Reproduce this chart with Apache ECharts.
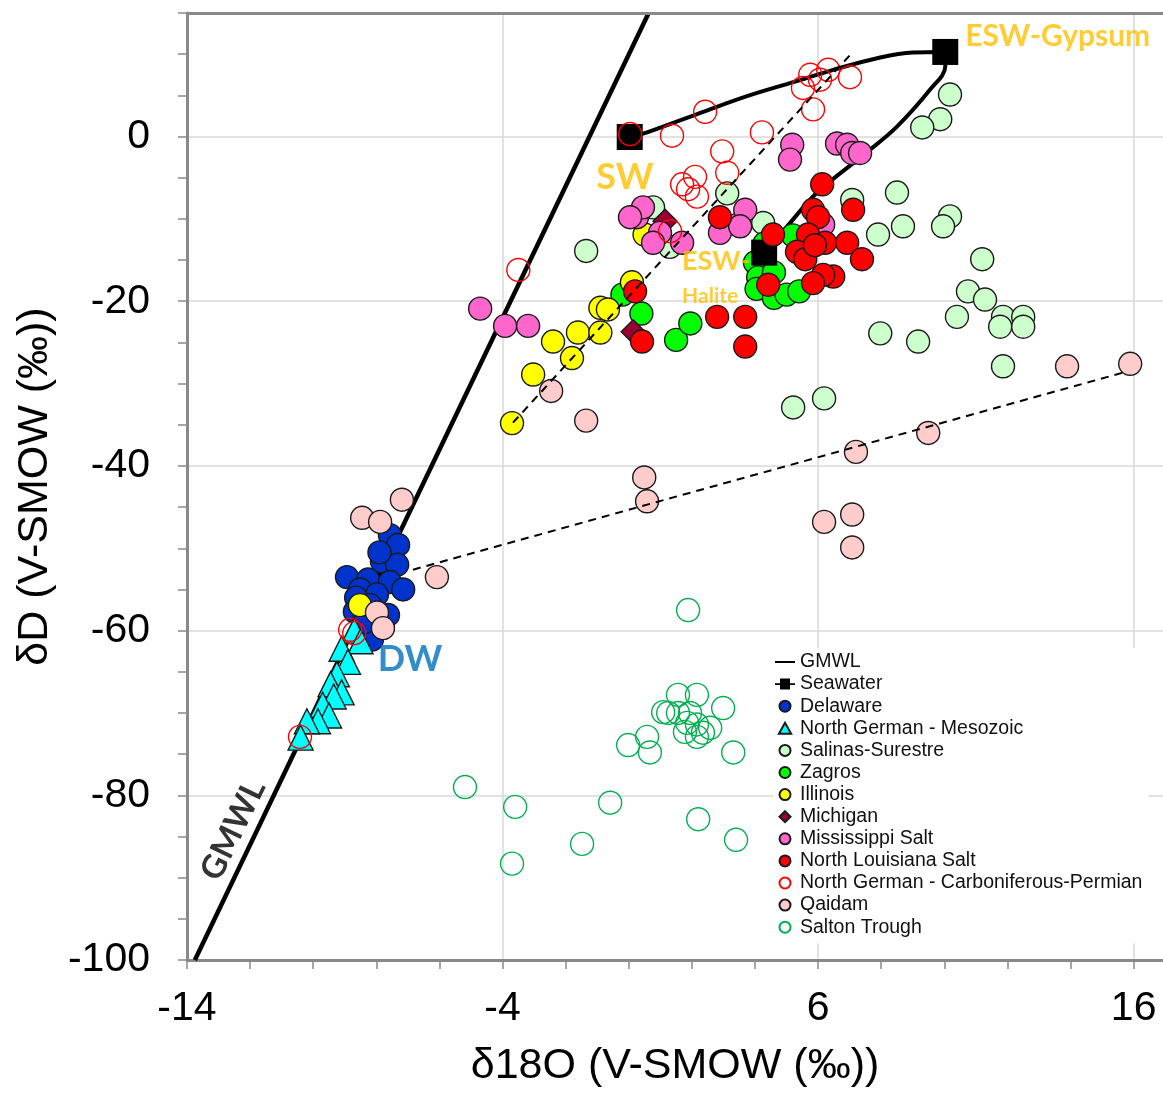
<!DOCTYPE html>
<html>
<head>
<meta charset="utf-8">
<script src="https://cdn.jsdelivr.net/npm/echarts@6/dist/echarts.min.js"></script>
<style>html,body{margin:0;padding:0;background:#fff;overflow:hidden}#c{width:1163px;height:1093px}</style>
</head>
<body>
<div id="c"></div>
<script>
// ---- data (δ18O, δD) ----
var gmwl = [[-13.75, -100], [0.63, 15]];
var seawaterCurve = [[0.03, -0.06], [0.58, 0.5], [2.36, 3.0], [3.75, 4.9], [5.21, 6.6], [6.48, 8.1], [7.97, 9.6], [9.01, 10.2], [10.03, 10.27],
  [10.03, 8.5], [9.55, 5.7], [8.5, 1.2], [7.55, -1.9], [5.97, -6.8], [5.02, -10.9], [4.29, -14.1]];
var seawaterKeyIdx = [0, 8, 15];
var dashA = [[-3.67, -34.75], [7.11, 10.3]];
var dashB = [[-6.84, -52.6], [15.73, -28.6]];

var delaware = [[-7.57,-48.4],[-7.31,-49.6],[-7.82,-51.6],[-7.34,-52.0],[-8.93,-53.5],[-8.26,-53.8],[-7.57,-54.1],[-7.15,-55.0],[-8.52,-55.0],[-7.98,-55.6],[-8.64,-56.0],[-8.2,-56.9],[-7.63,-58.1],[-8.68,-57.7],[-8.14,-61.1],[-7.9,-50.5],[-8.4,-59.0]];
var ngMesozoic = [[-8.7,-60.0],[-8.5,-61.3],[-9.1,-62.2],[-8.9,-63.8],[-9.25,-65.3],[-9.45,-66.5],[-9.1,-67.5],[-9.35,-68.0],[-9.7,-69.0],[-9.5,-70.3],[-9.85,-71.0],[-10.2,-71.0],[-10.4,-73.0]];
var salinas = [[10.18,5.1],[9.87,2.1],[9.3,1.1],[7.08,-7.7],[8.5,-6.8],[10.18,-9.7],[9.96,-10.9],[8.69,-10.9],[7.9,-11.9],[11.2,-14.9],[10.75,-18.8],[11.29,-19.8],[10.4,-21.9],[11.86,-21.9],[11.77,-23.1],[12.5,-21.9],[12.5,-23.1],[7.97,-23.9],[9.17,-24.9],[11.86,-27.9],[-1.35,-13.9],[3.12,-6.9],[5.21,-32.9],[6.19,-31.8],[0.77,-8.6],[1.3,-13.4],[4.26,-10.5]];
var zagros = [[-0.2,-19.2],[0.4,-21.5],[1.5,-24.7],[1.95,-22.7],[4.0,-15.3],[4.1,-17.1],[4.05,-18.5],[4.6,-19.6],[5.0,-19.2],[5.4,-18.8],[5.2,-12.0],[4.3,-13.0],[4.6,-16.5]];
var illinois = [[-3.7,-34.8],[-3.03,-28.9],[-2.4,-24.9],[-1.8,-26.9],[-1.61,-23.8],[-0.9,-23.8],[-0.9,-20.8],[-0.66,-21.0],[0.1,-17.7],[0.5,-11.9],[-8.52,-56.9]];
var michigan = [[1.15,-10.3],[0.14,-23.7]];
var mississippi = [[5.18,-1.0],[5.11,-2.8],[6.6,-0.85],[6.92,-1.0],[7.08,-2.0],[7.33,-2.0],[-4.71,-20.9],[-3.92,-23.0],[-3.19,-23.0],[0.26,-9.8],[0.45,-8.6],[0.99,-11.7],[0.77,-12.9],[1.69,-12.9],[3.46,-10.7],[3.69,-8.9],[2.89,-11.7],[3.53,-10.9],[6.16,-10.7],[0.04,-9.8]];
var louisiana = [[6.13,-5.8],[5.84,-8.9],[6.0,-9.8],[7.11,-8.9],[2.89,-9.8],[4.57,-11.9],[5.68,-11.9],[6.22,-12.9],[6.92,-12.9],[5.33,-14.0],[5.59,-14.9],[7.39,-14.9],[6.48,-17.0],[6.16,-16.8],[5.84,-17.8],[4.42,-18.0],[2.8,-21.9],[3.69,-21.9],[3.69,-25.5],[0.2,-18.8],[0.42,-24.9],[5.9,-13.2]];
var ngCarbPerm = [[0.04,0.3],[1.37,0.1],[2.42,3.0],[2.96,-1.8],[3.12,-4.4],[4.22,0.5],[1.69,-5.8],[2.1,-4.9],[5.52,5.9],[5.75,7.5],[6.06,6.9],[6.32,8.1],[5.84,3.3],[7.01,7.2],[1.88,-6.4],[2.16,-7.3],[1.31,-11.5],[-3.5,-16.2],[-8.83,-59.9],[-8.7,-60.3],[-10.42,-72.9]];
var qaidam = [[-7.19,-44.1],[-8.45,-46.3],[-7.88,-46.8],[-6.08,-53.5],[-7.98,-57.8],[-7.79,-59.7],[-2.46,-30.9],[-1.35,-34.5],[0.49,-41.4],[0.58,-44.3],[13.89,-27.9],[15.89,-27.6],[9.49,-36.0],[7.2,-38.3],[6.19,-46.8],[7.08,-45.9],[7.08,-49.9]];
var salton = [[1.88,-57.5],[1.56,-67.8],[2.16,-67.8],[2.99,-69.4],[1.09,-69.9],[1.25,-70.0],[1.56,-70.0],[1.94,-70.0],[1.85,-71.2],[2.16,-71.4],[2.58,-71.8],[1.78,-72.3],[2.16,-72.9],[2.35,-72.4],[0.58,-72.9],[-0.02,-73.9],[0.67,-74.8],[3.31,-74.8],[-5.19,-79.0],[-3.6,-81.4],[-0.59,-80.9],[-1.48,-85.9],[-3.7,-88.3],[2.2,-82.9],[3.4,-85.4]];

var xTickLabels = [-14, -4, 6, 16];
var yTickLabels = [-100, -80, -60, -40, -20, 0];
var xGridValues = [-4, 6, 16];
var yGridValues = [-80, -60, -40, -20, 0];
var xTitle = 'δ18O (V-SMOW (‰))';
var yTitle = 'δD (V-SMOW (‰))';

// ---- chart ----
var chart = echarts.init(document.getElementById('c'));
var FF = '"Liberation Sans", Arial, sans-serif';
var AF = 'Lato, "Open Sans", sans-serif';
var AX = '#898989';
var XMAX = 16.93;
var YMAX = 15;

function scat(name, data, symbol, color, border, size) {
  return {
    name: name, type: 'scatter', data: data, symbol: symbol, symbolSize: size || 23,
    itemStyle: {color: color, borderColor: border, borderWidth: 1.4, opacity: 1},
    emphasis: {disabled: true}, z: 2
  };
}

var swData = seawaterCurve.map(function (p, i) {
  return seawaterKeyIdx.indexOf(i) >= 0 ? {value: p} : {value: p, symbol: 'none'};
});

function anno(text, pos, color, size, align, rotate) {
  return {
    type: 'scatter', data: [pos], symbolSize: 0, silent: true, z: 20,
    label: {show: true, position: [0, 0], formatter: text, color: color, fontSize: size,
      fontWeight: 'bold', fontFamily: AF, align: align || 'center', verticalAlign: 'middle', rotate: rotate || 0}
  };
}

var gridLines = xGridValues.map(function (v) { return {xAxis: v}; })
  .concat(yGridValues.map(function (v) { return {yAxis: v}; }));

var option = {
  animation: false,
  backgroundColor: '#fff',
  grid: {left: 187, top: 13, right: 0, bottom: 133, show: false, outerBoundsMode: 'none', containLabel: false},
  xAxis: {
    type: 'value', min: -14, max: XMAX, interval: 2,
    axisLine: {show: true, onZero: false, lineStyle: {color: AX, width: 3}},
    axisTick: {show: true, length: 9, lineStyle: {color: AX, width: 1.5}},
    axisLabel: {fontSize: 41, color: '#000', margin: 28, fontFamily: FF, showMaxLabel: false,
      formatter: function (v) { return xTickLabels.indexOf(Math.round(v * 1000) / 1000) >= 0 ? String(v) : ''; }},
    splitLine: {show: false}, minorSplitLine: {show: false},
    name: xTitle, nameLocation: 'middle', nameGap: 85,
    nameTextStyle: {fontSize: 43, color: '#000', fontFamily: FF}
  },
  yAxis: {
    type: 'value', min: -100, max: YMAX, interval: 5,
    axisLine: {show: true, onZero: false, lineStyle: {color: AX, width: 3}},
    axisTick: {show: true, length: 9, lineStyle: {color: AX, width: 1.5}},
    axisLabel: {fontSize: 41, color: '#000', margin: 37, fontFamily: FF,
      formatter: function (v) { return yTickLabels.indexOf(Math.round(v * 1000) / 1000) >= 0 ? String(v) : ''; }},
    splitLine: {show: false}, minorSplitLine: {show: false},
    name: yTitle, nameLocation: 'middle', nameGap: 127,
    nameTextStyle: {fontSize: 43, color: '#000', fontFamily: FF}
  },
  legend: {
    data: [
      {name: 'GMWL', icon: 'path://M0,0 H20 V2 H0 Z'},
      {name: 'Seawater', icon: 'path://M0,4.6 H5 V0 H15 V4.6 H20 V6.4 H15 V11 H5 V6.4 H0 Z'},
      'Delaware',
      {name: 'North German - Mesozoic', icon: 'path://M5,0 L10,9 L0,9 Z'},
      'Salinas-Surestre', 'Zagros', 'Illinois',
      {name: 'Michigan', icon: 'path://M5,0 L10,5 L5,10 L0,5 Z'},
      'Mississippi Salt', 'North Louisiana Salt', 'North German - Carboniferous-Permian', 'Qaidam', 'Salton Trough'],
    orient: 'vertical', left: 773, top: 648, itemWidth: 20, itemHeight: 11, itemGap: 2.1, z: 10,
    padding: [4, 6, 6, 2], backgroundColor: '#fff', selectedMode: false, symbolKeepAspect: true,
    textStyle: {fontSize: 19.5, fontFamily: FF, color: '#111', lineHeight: 18}
  },
  series: [
    {name: 'gridlines', type: 'line', data: [], z: 0, silent: true,
      markLine: {silent: true, z: 0, symbol: ['none', 'none'], label: {show: false}, animation: false,
        lineStyle: {color: '#d9d9d9', width: 1.5, type: 'solid'}, emphasis: {disabled: true}, data: gridLines}},
    {name: 'topBorder', type: 'line', data: [], z: 3, silent: true,
      markLine: {silent: true, z: 3, symbol: ['none', 'none'], label: {show: false}, animation: false,
        lineStyle: {color: AX, width: 3, type: 'solid'}, emphasis: {disabled: true}, data: [{yAxis: YMAX}]}},
    {name: 'GMWL', type: 'line', data: gmwl, symbol: 'none', lineStyle: {color: '#000', width: 4.5}, itemStyle: {color: '#000'}, z: 2, silent: true},
    scat('Delaware', delaware, 'circle', '#0033CC', '#1a1a1a'),
    scat('North German - Mesozoic', ngMesozoic, 'triangle', '#00FFFF', '#1a1a1a', 25),
    scat('Salinas-Surestre', salinas, 'circle', '#CCFFCC', '#1a1a1a'),
    scat('Zagros', zagros, 'circle', '#00FF00', '#1a1a1a'),
    {name: 'Seawater', type: 'line', data: swData, smooth: 0.35, symbol: 'rect', symbolSize: 26, showAllSymbol: true,
      lineStyle: {color: '#000', width: 4}, itemStyle: {color: '#000', borderColor: '#000', borderWidth: 0}, z: 2, silent: true},
    scat('Illinois', illinois, 'circle', '#FFFF00', '#1a1a1a'),
    scat('Michigan', michigan, 'diamond', '#990033', '#1a1a1a', 24),
    scat('Mississippi Salt', mississippi, 'circle', '#FF66CC', '#1a1a1a'),
    scat('North Louisiana Salt', louisiana, 'circle', '#FF0000', '#1a1a1a'),
    scat('North German - Carboniferous-Permian', ngCarbPerm, 'circle', 'rgba(255,255,255,0)', '#FF0000', 23),
    scat('Qaidam', qaidam, 'circle', '#FFCCCC', '#1a1a1a'),
    scat('Salton Trough', salton, 'circle', 'rgba(255,255,255,0)', '#00B050', 23),
    {name: 'dashA', type: 'line', data: dashA, symbol: 'none', lineStyle: {color: '#000', width: 2, type: [8, 6]}, z: 3, silent: true},
    {name: 'dashB', type: 'line', data: dashB, symbol: 'none', lineStyle: {color: '#000', width: 2, type: [8, 6]}, z: 3, silent: true},
    anno('SW', [-0.12, -5.0], '#FFC000', 36),
    anno('ESW-Gypsum', [10.66, 12.15], '#FFC000', 30, 'left'),
    anno('ESW-', [1.69, -15.2], '#FFC000', 27, 'left'),
    anno('Halite', [1.69, -19.44], '#FFC000', 21, 'left'),
    anno('DW', [-6.93, -63.5], '#0070C0', 36),
    anno('GMWL', [-12.54, -84.2], '#000', 33, 'center', 64)
  ]
};
chart.setOption(option);
</script>
</body>
</html>
